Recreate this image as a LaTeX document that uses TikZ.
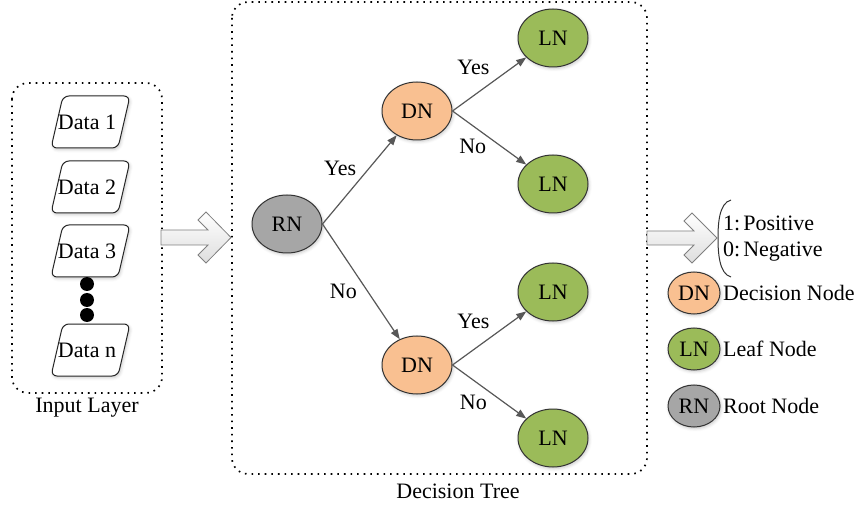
\documentclass[tikz,border=0pt]{standalone}
\usepackage{fontspec}
\setmainfont{Liberation Serif}
\usetikzlibrary{arrows.meta,shapes.geometric,shadows.blur}

\definecolor{dnfill}{HTML}{F9C091}
\definecolor{lnfill}{HTML}{9BBB59}
\definecolor{rnfill}{HTML}{A6A6A6}
\definecolor{edgegray}{HTML}{585858}

\newcommand\datarecord[4]{%
  \draw[databox] (#2-24,#3-26) -- (#2+43,#3-26) -- (#2+31,#3+26) -- (#2-36,#3+26) -- cycle;
  \node[inner sep=0pt] (#1) at (#2,#3) {#4};}

\begin{document}
\begin{tikzpicture}[x=1pt,y=-1pt,
  font=\fontsize{22}{25}\selectfont,
  frame/.style={draw=black, line width=1.7pt, dash pattern=on 1.6pt off 5pt, rounded corners=16pt},
  softshadow/.style={blur shadow={shadow xshift=1pt, shadow yshift=-1.5pt, shadow opacity=22, shadow blur radius=3pt}},
  treenode/.style={ellipse, draw=black!80, line width=1pt, minimum width=70pt, minimum height=58pt, inner sep=0pt, softshadow},
  legnode/.style={ellipse, draw=black!80, line width=1pt, minimum width=52pt, minimum height=42pt, inner sep=0pt, softshadow},
  dnode/.style={fill=dnfill},
  lnode/.style={fill=lnfill},
  rnode/.style={fill=rnfill},
  edge/.style={draw=edgegray, line width=1.2pt, -{Triangle[length=10pt,width=7.5pt]}},
  lbl/.style={inner sep=0pt},
  databox/.style={draw=black!85, line width=1pt, fill=white, rounded corners=6pt, softshadow},
  blockarrow/.style={draw=black!50, line width=0.8pt, top color=white, bottom color=black!13},
  dot/.style={circle, fill=black, inner sep=0pt, minimum size=14pt},
  legtext/.style={anchor=west, inner sep=0pt}
]
\useasboundingbox (0,0) rectangle (860,505);

% group frames
\draw[frame] (12,83) rectangle (162,393);
\node (inputcap) at (87,408) {Input Layer};
\draw[frame] (232,2) rectangle (647,474);
\node (treecap) at (458,491) {Decision Tree};

% input records
\datarecord{d1}{87}{122}{Data 1}
\datarecord{d2}{87}{187}{Data 2}
\datarecord{d3}{87}{251}{Data 3}
\datarecord{dn}{87}{350}{Data n}
\node[dot] (dotA) at (87,284) {};
\node[dot] (dotB) at (87,300) {};
\node[dot] (dotC) at (87,315) {};

% flow arrows
\draw[blockarrow] (161,230) -- (208,230) -- (198,220) -- (206,212) -- (231,237.5)
  -- (206,263) -- (198,255) -- (208,245) -- (161,245) -- cycle;
\draw[blockarrow] (647,231) -- (694,231) -- (684,221) -- (692,213) -- (717,238)
  -- (692,263) -- (684,255) -- (694,245) -- (647,245) -- cycle;

% decision tree
\node[treenode, rnode] (rn)  at (287,224) {RN};
\node[treenode, dnode] (dn1) at (417,111) {DN};
\node[treenode, dnode] (dn2) at (417,365) {DN};
\node[treenode, lnode] (ln1) at (553,38)  {LN};
\node[treenode, lnode] (ln2) at (553,184) {LN};
\node[treenode, lnode] (ln3) at (553,292) {LN};
\node[treenode, lnode] (ln4) at (553,438) {LN};

\draw[edge] (rn.east) -- node[lbl, shift={(-19.5,-11.4)}] {Yes} (dn1);
\draw[edge] (rn.east) -- node[lbl, shift={(-17.7,9.8)}] {No} (dn2);
\draw[edge] (dn1.east) -- node[lbl, shift={(-16,-17.3)}] {Yes} (ln1);
\draw[edge] (dn1.east) -- node[lbl, shift={(-16.6,8.7)}] {No} (ln2);
\draw[edge] (dn2.east) -- node[lbl, shift={(-16,-17)}] {Yes} (ln3);
\draw[edge] (dn2.east) -- node[lbl, shift={(-16,10.7)}] {No} (ln4);

% output classes
\draw[draw=black!80, line width=1pt] (731,200) .. controls (719,203) and (718,224) .. (718,238)
  .. controls (718,252) and (719,274) .. (731,277);
\node[legtext] (pos) at (723,223) {1:\hspace{3pt}Positive};
\node[legtext] (neg) at (723,252) {0:\hspace{3pt}Negative};

% legend
\node[legnode, dnode] (legdn) at (694,293) {DN};
\node[legtext] (legdntext) at (723,293) {Decision Node};
\node[legnode, lnode] (legln) at (694,349) {LN};
\node[legtext] (leglntext) at (723,349) {Leaf Node};
\node[legnode, rnode] (legrn) at (694,406) {RN};
\node[legtext] (legrntext) at (723,406) {Root Node};
\end{tikzpicture}
\end{document}
